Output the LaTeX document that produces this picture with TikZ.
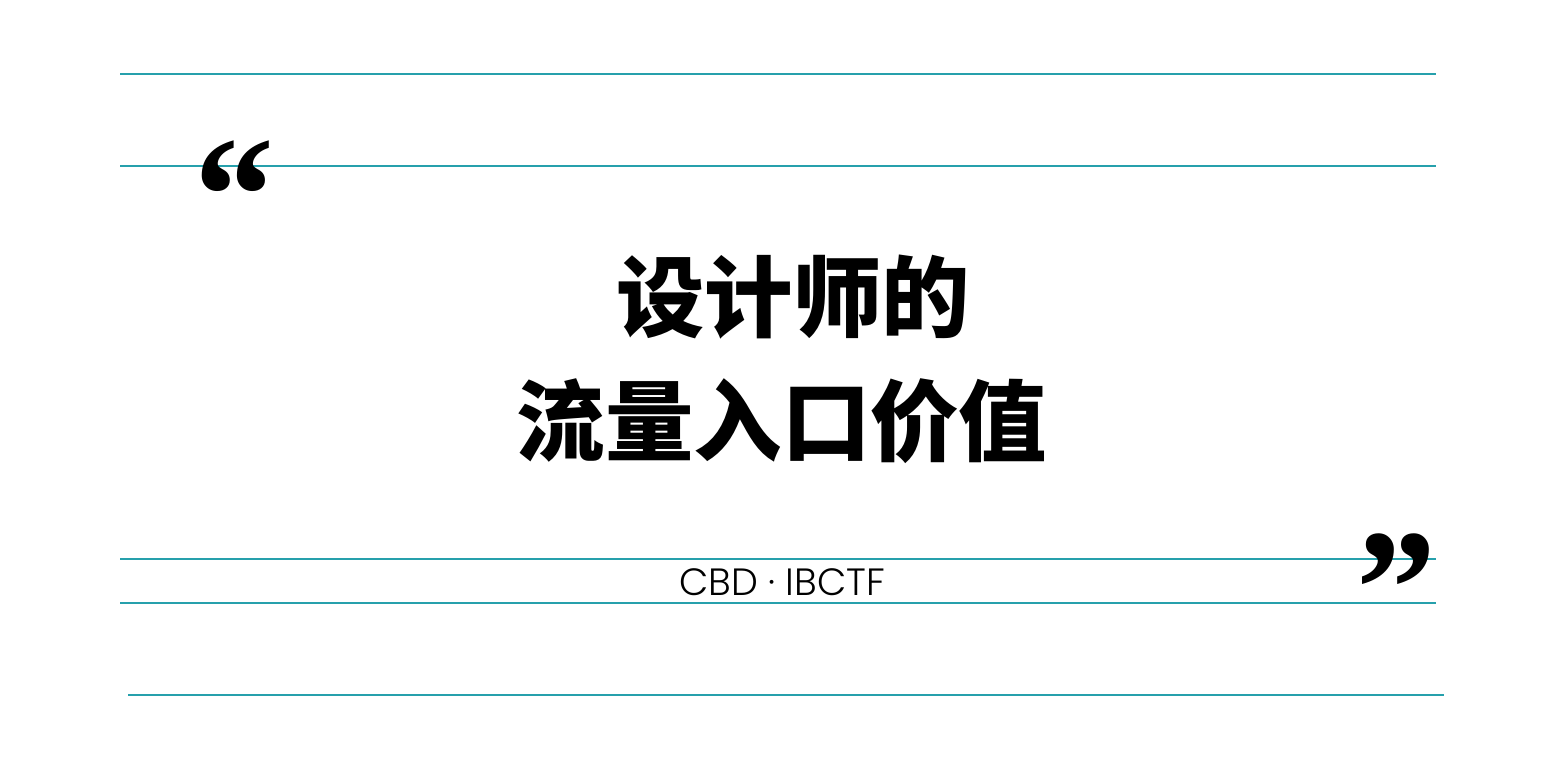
\documentclass[tikz,border=0pt]{standalone}
\usepackage{fontspec}
\usepackage{xcolor}
\newfontfamily\cjk{Noto Sans CJK SC Black}
\newfontfamily\quotefont{Liberation Serif Bold}
\setsansfont{Poppins Light}
\definecolor{C0}{RGB}{38,160,172}

\begin{document}
\begin{tikzpicture}[x=1pt,y=-1pt]
  \tikzset{
    rule/.style={draw=C0,line width=2pt},
    headline/.style={font=\cjk\fontsize{88.4}{88.4}\selectfont,inner sep=0pt,anchor=center},
    quotemark/.style={font=\quotefont\fontsize{160}{160}\selectfont,inner sep=0pt,yscale=1.05},
    credit/.style={font=\sffamily\fontsize{38}{38}\selectfont,inner sep=0pt}
  }
  \useasboundingbox (0,0) rectangle (1564,757);

  % Horizontal rules.
  \draw[rule] (120,74) -- (1436,74);
  \draw[rule] (120,166) -- (1436,166);
  \draw[rule] (120,559) -- (1436,559);
  \draw[rule] (120,603) -- (1436,603);
  \draw[rule] (128,695) -- (1444,695);

  % Quote marks.
  \node[quotemark,transform shape] (quoteopen) at (234.5,197) {“};
  \node[quotemark,transform shape] (quoteclose) at (1396,590) {”};

  % Title.
  \node[headline] (titleone) at (793,297) {设计师的};
  \node[headline] (titletwo) at (782,421) {流量入口价值};

  \node[credit] (creditline) at (782,582) {CBD · IBCTF};

\end{tikzpicture}
\end{document}
